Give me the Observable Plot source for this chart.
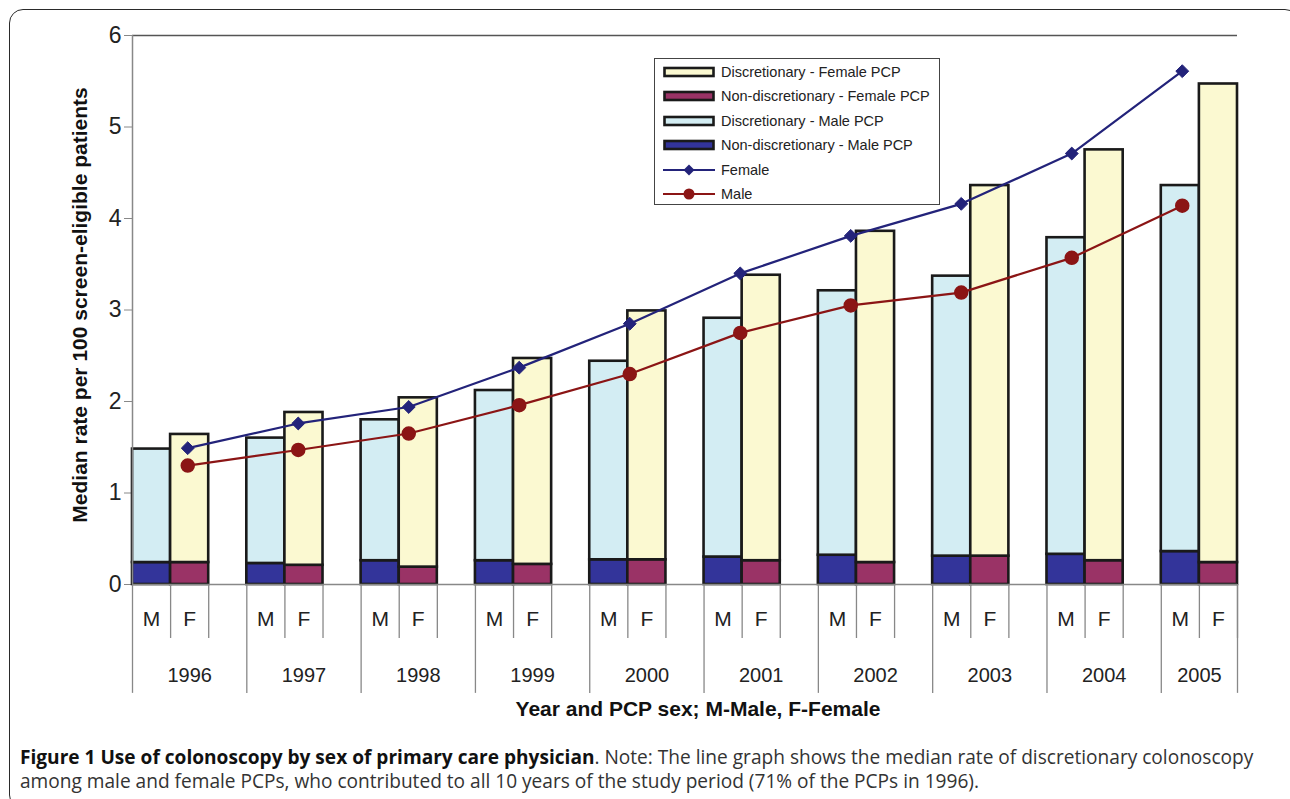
<!DOCTYPE html>
<html>
<head>
<meta charset="utf-8">
<script src="https://cdn.jsdelivr.net/npm/d3@7"></script>
<script src="https://cdn.jsdelivr.net/npm/@observablehq/plot@0.6"></script>
<style>
  html, body { margin: 0; padding: 0; background: #fff; }
  #wrap { position: relative; width: 1290px; height: 799px; overflow: hidden; font-family: "Liberation Sans", Arial, sans-serif; }
  #frame { position: absolute; left: 9px; top: 9px; width: 1290px; height: 800px; border: 1.5px solid #2a2a2a; border-radius: 14px; box-sizing: border-box; }
  #chart { position: absolute; left: 0; top: 0; }
  #legend { position: absolute; left: 654px; top: 58px; width: 286px; height: 147px; border: 1px solid #444; box-sizing: border-box; background: #fff; }
  .li { position: absolute; left: 8px; height: 20px; display: flex; align-items: center; font-size: 14.5px; color: #222; white-space: nowrap; }
  .li svg { margin-right: 6px; }
  #caption { position: absolute; left: 20px; top: 745px; width: 1230px; font-family: "Open Sans", sans-serif; font-size: 19.1px; line-height: 24px; color: #333; }
  #caption .l1 { text-align: justify; text-align-last: justify; white-space: nowrap; }
  #caption b { color: #111; }
</style>
</head>
<body>
<div id="wrap">
  <div id="frame"></div>
  <div id="chart"></div>
  <div id="legend"></div>
  <div id="caption"><div class="l1"><b>Figure 1 Use of colonoscopy by sex of primary care physician</b>. Note: The line graph shows the median rate of discretionary colonoscopy</div><div>among male and female PCPs, who contributed to all 10 years of the study period (71% of the PCPs in 1996).</div></div>
</div>
<script>
// ---- data ----
const years = ["1996","1997","1998","1999","2000","2001","2002","2003","2004","2005"];
const sexLabels = ["M", "F"];
const maleNonDisc   = [0.24, 0.23, 0.26, 0.26, 0.27, 0.30, 0.32, 0.31, 0.33, 0.36];
const maleDisc      = [1.24, 1.37, 1.54, 1.86, 2.17, 2.61, 2.89, 3.06, 3.46, 4.00];
const femaleNonDisc = [0.24, 0.21, 0.19, 0.22, 0.27, 0.26, 0.24, 0.31, 0.26, 0.24];
const femaleDisc    = [1.40, 1.67, 1.85, 2.25, 2.72, 3.12, 3.62, 4.05, 4.49, 5.23];
const femaleLine    = [1.49, 1.76, 1.94, 2.37, 2.85, 3.40, 3.81, 4.16, 4.71, 5.61];
const maleLine      = [1.30, 1.47, 1.65, 1.96, 2.30, 2.75, 3.05, 3.19, 3.57, 4.14];
const yTicks = [0, 1, 2, 3, 4, 5, 6];

const seriesNames = ["Discretionary - Female PCP", "Non-discretionary - Female PCP", "Discretionary - Male PCP", "Non-discretionary - Male PCP", "Female", "Male"];
const colors = {
  discF: "#fbf9d1", ndF: "#9a3366", discM: "#d3edf3", ndM: "#33349a",
  lineF: "#23237a", lineM: "#8b1515", outline: "#1a1a1a", axis: "#888"
};

// ---- layout in "slots": each year = M, F, gap; last gap dropped ----
const nSlots = years.length * 3 - 1;
const bars = [];
years.forEach((yr, i) => {
  const specs = [
    {s: 0, nd: maleNonDisc[i], disc: maleDisc[i], ndc: colors.ndM, dc: colors.discM},
    {s: 1, nd: femaleNonDisc[i], disc: femaleDisc[i], ndc: colors.ndF, dc: colors.discF}
  ];
  for (const sp of specs) {
    const slot = 3 * i + sp.s;
    bars.push({x1: slot, x2: slot + 1, y1: 0, y2: sp.nd, fill: sp.ndc});
    bars.push({x1: slot, x2: slot + 1, y1: sp.nd, y2: sp.nd + sp.disc, fill: sp.dc});
  }
});
// line series sit on a secondary category axis of 10 equal bands
const lineX = i => (i + 0.5) * nSlots / years.length;
const fPts = femaleLine.map((v, i) => ({x: lineX(i), y: v}));
const mPts = maleLine.map((v, i) => ({x: lineX(i), y: v}));

// category axis pieces
const sexLabelData = [];
const shortDiv = [];
years.forEach((yr, i) => {
  sexLabels.forEach((s, k) => sexLabelData.push({x: 3 * i + k + 0.5, t: s}));
  shortDiv.push(3 * i + 1, 3 * i + 2);
});
const longDiv = years.map((yr, i) => 3 * i).concat([nSlots]);
const yearLabelData = years.map((yr, i) => ({x: (3 * i + Math.min(3 * i + 3, nSlots)) / 2, t: yr}));

const chart = Plot.plot({
  width: 1290,
  height: 730,
  marginLeft: 132,
  marginRight: 53,
  marginTop: 35,
  marginBottom: 146,
  x: {type: "linear", domain: [0, nSlots], axis: null},
  y: {domain: [0, 6], axis: null},
  style: {fontFamily: "'Liberation Sans', Arial, sans-serif", background: "transparent", overflow: "visible"},
  marks: [
    Plot.ruleY([6], {x1: 0, x2: nSlots, stroke: "#555", strokeWidth: 1.5}),
    Plot.axisY({ticks: yTicks, tickSize: 8, tickPadding: 3, fontSize: 23, label: null, stroke: colors.axis, color: "#222", tickFormat: d => String(d)}),
    Plot.rect(bars, {x1: "x1", x2: "x2", y1: "y1", y2: "y2", fill: "fill", stroke: colors.outline, strokeWidth: 2.6}),
    Plot.ruleX([0], {y1: 0, y2: 6, stroke: colors.axis, strokeWidth: 1.5}),
    Plot.ruleY([0], {x1: 0, x2: nSlots, stroke: colors.axis, strokeWidth: 1.5}),
    // category axis dividers
    Plot.ruleX(shortDiv, {x: d => d, y1: 0, y2: -0.59, stroke: colors.axis, strokeWidth: 1.3}),
    Plot.ruleX(longDiv, {x: d => d, y1: 0, y2: -1.19, stroke: colors.axis, strokeWidth: 1.3}),
    Plot.text(sexLabelData, {x: "x", y: 0, text: "t", dy: 35, fontSize: 21, fill: "#222"}),
    Plot.text(yearLabelData, {x: "x", y: 0, text: "t", dy: 91, fontSize: 20, fill: "#222"}),
    // lines
    Plot.line(fPts, {x: "x", y: "y", stroke: colors.lineF, strokeWidth: 2.2}),
    Plot.dot(fPts, {x: "x", y: "y", symbol: "diamond2", r: 5.8, fill: colors.lineF, stroke: colors.lineF, strokeWidth: 1}),
    Plot.line(mPts, {x: "x", y: "y", stroke: colors.lineM, strokeWidth: 2.2}),
    Plot.dot(mPts, {x: "x", y: "y", r: 6.5, fill: colors.lineM, stroke: colors.lineM}),
    // titles
    Plot.text(["Median rate per 100 screen-eligible patients"], {frameAnchor: "left", textAnchor: "middle", rotate: -90, dx: -52, dy: -5, fontSize: 21, fontWeight: "bold", fill: "#111"}),
    Plot.text(["Year and PCP sex; M-Male, F-Female"], {frameAnchor: "bottom", dx: 13, dy: 131, fontSize: 21, fontWeight: "bold", fill: "#111"})
  ]
});
document.getElementById("chart").appendChild(chart);

// legend
const legend = document.getElementById("legend");
const legendItems = [
  {name: seriesNames[0], type: "box", c: colors.discF},
  {name: seriesNames[1], type: "box", c: colors.ndF},
  {name: seriesNames[2], type: "box", c: colors.discM},
  {name: seriesNames[3], type: "box", c: colors.ndM},
  {name: seriesNames[4], type: "diamond", c: colors.lineF},
  {name: seriesNames[5], type: "circle", c: colors.lineM}
];
legendItems.forEach((it, k) => {
  const div = document.createElement("div");
  div.className = "li";
  div.style.top = (3 + k * 24.4) + "px";
  let sw;
  if (it.type === "box") {
    sw = `<svg width="52" height="14"><rect x="1.5" y="3" width="49" height="8" fill="${it.c}" stroke="${colors.outline}" stroke-width="2.6"/></svg>`;
  } else if (it.type === "diamond") {
    sw = `<svg width="52" height="14"><line x1="0" x2="52" y1="7" y2="7" stroke="${it.c}" stroke-width="2"/><path d="M26,1.5L31.5,7L26,12.5L20.5,7Z" fill="${it.c}"/></svg>`;
  } else {
    sw = `<svg width="52" height="14"><line x1="0" x2="52" y1="7" y2="7" stroke="${it.c}" stroke-width="2"/><circle cx="26" cy="7" r="5.5" fill="${it.c}"/></svg>`;
  }
  div.innerHTML = sw + `<span>${it.name}</span>`;
  legend.appendChild(div);
});
</script>
</body>
</html>
